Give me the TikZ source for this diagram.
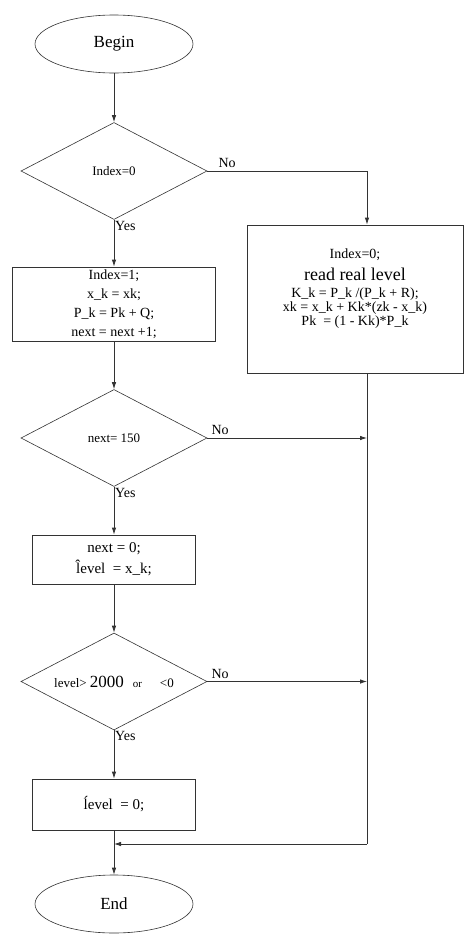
\documentclass[tikz,border=0pt]{standalone}
\usepackage{fontspec}
\setmainfont{Liberation Serif}
\usetikzlibrary{arrows.meta, shapes.geometric, calc}

\begin{document}
\begin{tikzpicture}[x=1pt, y=-1pt,
    every node/.style={inner sep=1pt},
    line/.style={draw=black!80, line width=0.8pt},
    flow/.style={line, -{Latex[length=7pt, width=4.5pt]}},
    term/.style={ellipse, draw=black!80, line width=0.6pt, minimum width=158pt, minimum height=58pt, font=\fontsize{17}{20}\selectfont},
    test/.style={diamond, aspect=2, inner sep=0pt, draw=black!80, line width=0.6pt, minimum width=186pt, minimum height=97pt, font=\fontsize{13}{15}\selectfont},
    stepbox/.style={rectangle, draw=black!80, line width=0.8pt, align=center, font=\fontsize{14}{19}\selectfont},
    lbl/.style={font=\fontsize{14}{16}\selectfont}]
    \useasboundingbox (0,0) rectangle (468,937);

    % Start and first test
    \node[term] (begin) at (114,44) {Begin};
    \node[test] (dA) at (114,171) {Index=0};

    % Box 1 : read branch
    \node[stepbox, minimum width=216pt, minimum height=148pt, font=\fontsize{14}{12}\selectfont] (read) at (355,299)
        {Index=0;\\[7pt] {\fontsize{18}{20}\selectfont read real level}\\[5pt]
         K\_k = P\_k /(P\_k + R);\\ xk = x\_k + Kk*(zk - x\_k)\\ Pk~ = (1 - Kk)*P\_k\\[12pt]\mbox{}};

    % Box 2 : predict
    \node[stepbox, minimum width=203pt, minimum height=74pt] (ini) at (114,304)
        {Index=1;\\ x\_k = xk;\\ P\_k = Pk + Q;\\ next = next +1;};

    % Box 3 : counter test and reset
    \node[test] (dB) at (114,438) {next= 150};
    \node[stepbox, minimum width=163pt, minimum height=49pt, font=\fontsize{15}{21}\selectfont] (rst) at (114,559.5)
        {next = 0;\\ \^{l}evel~ = x\_k;};

    % Box 4 : range test
    \node[test] (dC) at (114,681.5)
        {level>\hspace{3pt}{\fontsize{17}{19}\selectfont 2000}\hspace{9pt}{\fontsize{11}{13}\selectfont or}\hspace{18pt}<0};
    \node[stepbox, minimum width=163pt, minimum height=51pt, font=\fontsize{15}{18}\selectfont] (lvz) at (114,804.5)
        {\'{l}evel~ = 0;};
    \node[term] (end) at (114,904) {End};

    % --- branch labels ---
    \node[lbl, anchor=south west] (noA) at ([xshift=10pt, yshift=2pt]dA.east) {No};
    \node[lbl, anchor=south west] (noB) at ([xshift=3pt, yshift=2pt]dB.east) {No};
    \node[lbl, anchor=south west] (noC) at ([xshift=3pt, yshift=2pt]dC.east) {No};
    \node[lbl, anchor=north west] (yesA) at (dA.south) {Yes};
    \node[lbl, anchor=north west] (yesB) at (dB.south) {Yes};
    \node[lbl, anchor=north west] (yesC) at (dC.south) {Yes};

    % --- connectors ---
    \coordinate (bus) at (367,844);
    \draw[flow] (begin) -- (dA);
    \draw[flow] (dA) -- (ini);
    \draw[flow] (dA.east) -| (read.north -| bus);
    \draw[flow] (ini) -- (dB);
    \draw[flow] (dB) -- (rst);
    \draw[flow] (dB.east) -- (dB.east -| bus);
    \draw[flow] (rst) -- (dC);
    \draw[flow] (dC) -- (lvz);
    \draw[flow] (dC.east) -- (dC.east -| bus);
    \draw[line] (read.south -| bus) -- (bus);
    \draw[flow] (bus) -- (bus -| lvz.south);
    \draw[flow] (lvz) -- (end);
\end{tikzpicture}
\end{document}
